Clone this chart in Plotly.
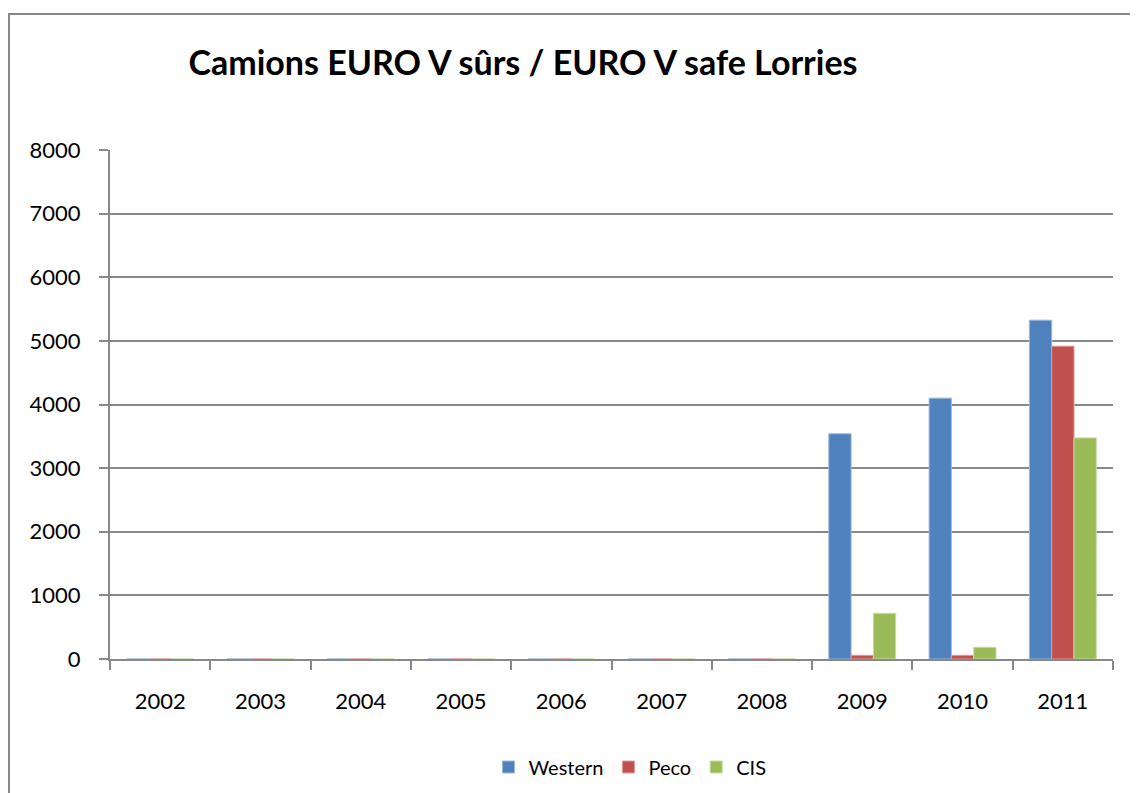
import plotly.graph_objects as go

years = ["2002", "2003", "2004", "2005", "2006", "2007", "2008", "2009", "2010", "2011"]
western = [0, 0, 0, 0, 0, 0, 0, 3540, 4100, 5325]
peco = [0, 0, 0, 0, 0, 0, 0, 58, 58, 4917]
cis = [0, 0, 0, 0, 0, 0, 0, 718, 184, 3475]
yticks = [0, 1000, 2000, 3000, 4000, 5000, 6000, 7000, 8000]

FONT = "Lato, Open Sans, sans-serif"
W, H = 1138, 793
OFF = 8  # page body margin
L, T = 110 - OFF, 150 - OFF
R = W - (1113 - OFF)
B = H - (659 - OFF)
pw, ph = W - L - R, H - T - B

def px(x):
    return (x - OFF - L) / pw

def py(y):
    return (H - B - (y - OFF)) / ph

fig = go.Figure()
for name, vals, col, line in [("Western", western, "#4F81BD", "#9DB7DA"),
                              ("Peco", peco, "#C0504D", "#DE9C9A"),
                              ("CIS", cis, "#9BBB59", "#C8DCA3")]:
    fig.add_trace(go.Bar(x=years, y=vals, name=name, marker=dict(color=col, line=dict(color=line, width=1))))

fig.update_layout(
    width=W, height=H,
    margin=dict(l=L, r=R, t=T, b=B),
    paper_bgcolor="white", plot_bgcolor="white",
    barmode="group", bargap=0.333, bargroupgap=0,
    font=dict(family=FONT, color="black", size=22),
    title=dict(text="<b>Camions EURO V sûrs / EURO V safe Lorries</b>",
               font=dict(family=FONT, size=34, color="black"),
               x=px(523), xref="paper", xanchor="center",
               y=1 - (63 - OFF) / H, yref="container", yanchor="middle"),
    showlegend=True,
    legend=dict(orientation="h", x=px(630), xanchor="center", y=py(767), yanchor="middle",
                font=dict(size=20), itemwidth=30, traceorder="normal"),
    xaxis=dict(type="category", showline=True, linecolor="#888888", linewidth=2,
               ticks="outside", tickson="boundaries", ticklen=9, tickcolor="#888888", tickwidth=2,
               showgrid=False, tickfont=dict(size=22), ticklabelstandoff=22),
    yaxis=dict(range=[0, 8000], tickvals=yticks, showline=True, linecolor="#888888", linewidth=2,
               ticks="outside", ticklen=9, tickcolor="#888888", tickwidth=2,
               showgrid=True, gridcolor="#888888", gridwidth=1.5, zeroline=False,
               tickfont=dict(size=22), ticklabelstandoff=14),
    shapes=[dict(type="rect", xref="paper", yref="paper",
                 x0=px(9), x1=px(1160), y0=py(820), y1=py(14),
                 line=dict(color="#888888", width=2), fillcolor="rgba(0,0,0,0)", layer="below")],
)

fig.write_html("out.html")
